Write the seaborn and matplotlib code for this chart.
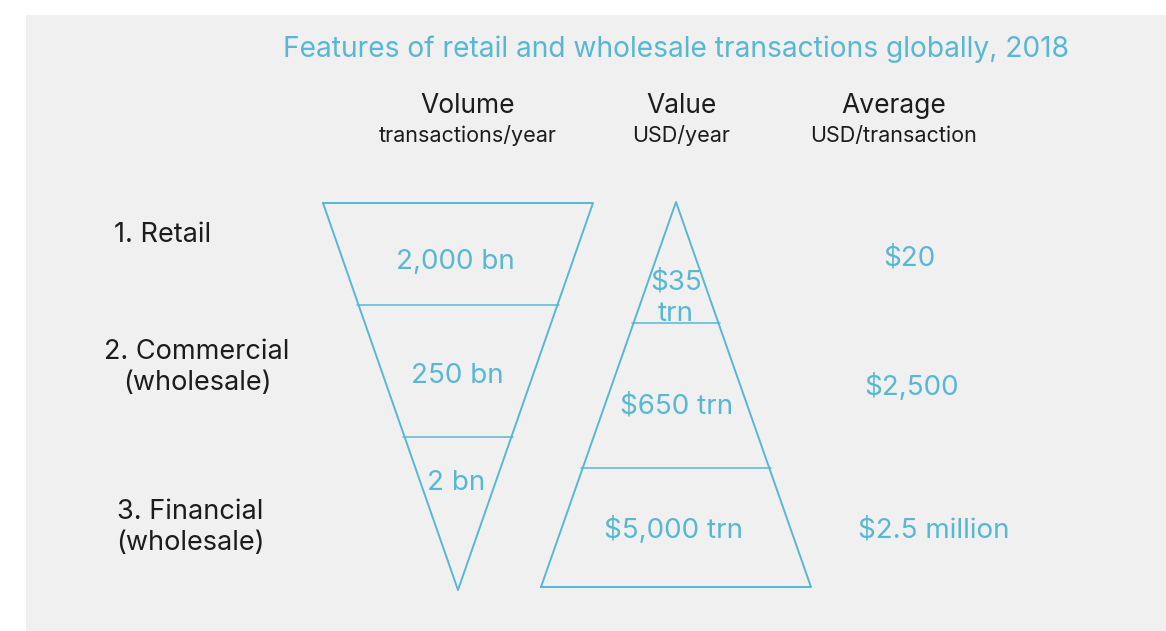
import pandas as pd
import matplotlib.pyplot as plt
import seaborn as sns
from matplotlib.patches import Rectangle

# Chart content
title = "Features of retail and wholesale transactions globally, 2018"
column_titles = ["Volume", "Value", "Average"]
column_units = ["transactions/year", "USD/year", "USD/transaction"]
segments = ["1. Retail", "2. Commercial\n(wholesale)", "3. Financial\n(wholesale)"]
volume_labels = ["2,000 bn", "250 bn", "2 bn"]
value_labels = ["$35\ntrn", "$650 trn", "$5,000 trn"]
average_labels = ["$20", "$2,500", "$2.5 million"]

BLUE = "#58b7d3"
DARK = "#1c1c1c"

sns.set_theme(style="white")
plt.rcParams['font.family'] = ['Inter', 'DejaVu Sans']

fig = plt.figure(figsize=(11.66, 6.31), dpi=100)
fig.patch.set_facecolor("white")
ax = fig.add_axes([0, 0, 1, 1])
ax.set_xlim(0, 1166)
ax.set_ylim(631, 0)
ax.axis("off")

# grey panel behind the diagram
ax.add_patch(Rectangle((26, 15), 1166 - 26, 631 - 15, facecolor="#f0f0f0", edgecolor="none", zorder=0))


def triangle(cx, y_wide, y_tip, half_w, cuts):
    # outline of a triangle with its wide side at y_wide and tip at y_tip
    outline = pd.DataFrame({
        "x": [cx - half_w, cx + half_w, cx, cx - half_w],
        "y": [y_wide, y_wide, y_tip, y_wide],
    })
    sns.lineplot(data=outline, x="x", y="y", sort=False, estimator=None,
                 color=BLUE, linewidth=1.4, ax=ax)
    for cy in cuts:
        w = half_w * (y_tip - cy) / (y_tip - y_wide) + 2
        ax.plot([cx - w, cx + w], [cy, cy], color=BLUE, linewidth=1.1)


def lines(x, y, label, gap, **kw):
    # one text per line, y is the baseline of the first line
    for i, part in enumerate(label.split("\n")):
        ax.text(x, y + i * gap, part, ha="center", va="baseline", **kw)


# volume funnel (inverted) and value pyramid
triangle(458, 203, 590, 135, [305, 437])
triangle(676, 587, 202, 135, [323, 468])

ax.text(676, 57, title, color=BLUE, fontsize=20.3, ha="center", va="baseline")

for x, head, unit in zip([468, 681, 894], column_titles, column_units):
    ax.text(x, 113, head, color=DARK, fontsize=19, ha="center", va="baseline")
    ax.text(x, 142, unit, color=DARK, fontsize=15.5, ha="center", va="baseline")

for (x, y), lab in zip([(163, 242), (197, 359), (190, 519)], segments):
    lines(x, y, lab, 31, color=DARK, fontsize=19.5)

for (x, y), lab in zip([(455, 269), (457, 383), (456, 490)], volume_labels):
    lines(x, y, lab, 32, color=BLUE, fontsize=20)

for (x, y), lab in zip([(676, 289), (677, 413), (674, 538)], value_labels):
    lines(x, y, lab, 32, color=BLUE, fontsize=20)

for (x, y), lab in zip([(909, 265), (912, 395), (934, 538)], average_labels):
    lines(x, y, lab, 32, color=BLUE, fontsize=20)

fig.savefig("out.png", dpi=100)
